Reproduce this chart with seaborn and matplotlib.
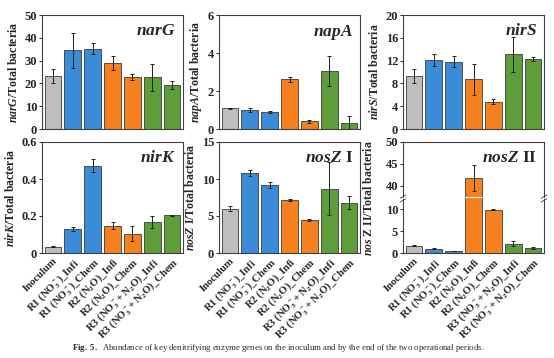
import numpy as np
import matplotlib
matplotlib.use('Agg')
import matplotlib.pyplot as plt
import seaborn as sns

# categories and colours
cats = ['Inoculum', 'R1 (NO$_3^-$)_Infi', 'R1 (NO$_3^-$)_Chem',
        'R2 (N$_2$O)_Infi', 'R2 (N$_2$O)_Chem',
        'R3 (NO$_3^-$+ N$_2$O)_Infi', 'R3 (NO$_3^-$+ N$_2$O)_Chem']
bar_colors = ['#BEBEBE', '#3B8CD8', '#3B8CD8', '#F5801F', '#F5801F', '#5E9E3A', '#5E9E3A']

# gene abundances (mean, error)
narG = [23.3, 34.5, 35.3, 29.0, 23.0, 22.6, 19.2]
narG_err = [3.0, 7.7, 2.3, 3.1, 1.3, 6.1, 1.8]
napA = [1.08, 1.01, 0.91, 2.61, 0.40, 3.04, 0.31]
napA_err = [0.03, 0.10, 0.06, 0.12, 0.08, 0.78, 0.36]
nirS = [9.3, 12.1, 11.8, 8.75, 4.8, 13.1, 12.3]
nirS_err = [1.15, 1.0, 1.0, 2.7, 0.5, 3.1, 0.35]
nirK = [0.034, 0.13, 0.472, 0.148, 0.104, 0.166, 0.203]
nirK_err = [0.004, 0.01, 0.035, 0.017, 0.04, 0.033, 0.004]
nosZI = [6.0, 10.8, 9.2, 7.15, 4.46, 8.7, 6.8]
nosZI_err = [0.3, 0.4, 0.35, 0.15, 0.1, 3.6, 0.9]
nosZII = [1.65, 0.97, 0.52, 41.7, 9.97, 2.1, 1.1]
nosZII_err = [0.15, 0.15, 0.05, 3.0, 0.2, 0.6, 0.2]

sns.set_style('ticks')
plt.rcParams['font.family'] = ['Liberation Serif', 'DejaVu Serif']
plt.rcParams['font.weight'] = 'bold'
plt.rcParams['mathtext.fontset'] = 'custom'
plt.rcParams['mathtext.rm'] = 'Liberation Serif:bold'
plt.rcParams['mathtext.it'] = 'Liberation Serif:bold:italic'
plt.rcParams['mathtext.bf'] = 'Liberation Serif:bold'
plt.rcParams['axes.edgecolor'] = '#404040'
plt.rcParams['axes.linewidth'] = 0.8

fig = plt.figure(figsize=(5.54, 3.58), dpi=100)
W, H = 554, 358
TICK_FS = 9
XLAB_FS = 7.7
YLAB_FS = 8.5


def make_ax(left, top, right, bottom):
    return fig.add_axes([left / W, 1 - bottom / H, (right - left) / W, (bottom - top) / H])


def draw_bars(ax, vals, errs):
    sns.barplot(x=cats, y=vals, hue=cats, palette=bar_colors, legend=False, saturation=1,
                width=0.84, edgecolor='#3a3a3a', linewidth=0.6, ax=ax)
    ax.errorbar(x=np.arange(len(cats)), y=vals, yerr=errs, fmt='none',
                ecolor='#202020', elinewidth=0.7, capsize=1.5, capthick=0.7)
    ax.set_xlim(-0.55, 6.55)
    ax.set_xlabel('')
    ax.tick_params(axis='y', labelsize=TICK_FS, length=2.5, width=0.7, pad=1)
    ax.tick_params(axis='x', length=0)


def set_xlabels(ax):
    ax.set_xticks(range(len(cats)))
    ax.set_xticklabels(cats, rotation=45, ha='right', rotation_mode='anchor',
                       fontsize=XLAB_FS, fontweight='bold')
    ax.tick_params(axis='x', pad=2)


def style(ax, title, ylabel, ylim, yticks, ticklabels, show_x):
    ax.set_ylim(*ylim)
    ax.set_yticks(yticks)
    ax.set_yticklabels(ticklabels, fontweight='bold')
    ax.set_ylabel(ylabel, fontsize=YLAB_FS, labelpad=3, fontweight='bold')
    ax.text(0.95, 0.93, title, transform=ax.transAxes, ha='right', va='top', fontsize=12.5)
    if show_x:
        set_xlabels(ax)
    else:
        ax.set_xticklabels([])


lefts = [42, 219, 403]
rights = [183, 360, 544]

ax1 = make_ax(lefts[0], 15, rights[0], 129)
draw_bars(ax1, narG, narG_err)
style(ax1, '$narG$', '$narG$/Total bacteria', (0, 50), [0, 10, 20, 30, 40, 50],
      ['0', '10', '20', '30', '40', '50'], False)

ax2 = make_ax(lefts[1], 15, rights[1], 129)
draw_bars(ax2, napA, napA_err)
style(ax2, '$napA$', '$napA$/Total bacteria', (0, 6), [0, 2, 4, 6],
      ['0', '2', '4', '6'], False)

ax3 = make_ax(lefts[2], 15, rights[2], 129)
draw_bars(ax3, nirS, nirS_err)
style(ax3, '$nirS$', '$nirS$/Total bacteria', (0, 20), [0, 4, 8, 12, 16, 20],
      ['0', '4', '8', '12', '16', '20'], False)

ax4 = make_ax(lefts[0], 142, rights[0], 253)
draw_bars(ax4, nirK, nirK_err)
style(ax4, '$nirK$', '$nirK$/Total bacteria', (0, 0.6), [0, 0.2, 0.4, 0.6],
      ['0', '0.2', '0.4', '0.6'], True)

ax5 = make_ax(lefts[1], 142, rights[1], 253)
draw_bars(ax5, nosZI, nosZI_err)
style(ax5, '$nosZ$ I', '$nosZ$ I/Total bacteria', (0, 15), [0, 5, 10, 15],
      ['0', '5', '10', '15'], True)

# broken axis panel for nosZ II
ax6u = make_ax(lefts[2], 142, rights[2], 196.5)
ax6l = make_ax(lefts[2], 198.5, rights[2], 253)
draw_bars(ax6u, nosZII, nosZII_err)
draw_bars(ax6l, nosZII, nosZII_err)
ax6u.set_ylim(37.5, 50)
ax6u.set_yticks([40, 45, 50])
ax6u.set_yticklabels(['40', '45', '50'], fontweight='bold')
ax6u.set_xticklabels([])
ax6u.spines['bottom'].set_visible(False)
ax6u.text(0.95, 0.86, '$nosZ$ II', transform=ax6u.transAxes, ha='right', va='top', fontsize=12.5)
ax6l.set_ylim(0, 12.5)
ax6l.set_yticks([0, 5, 10])
ax6l.set_yticklabels(['0', '5', '10'], fontweight='bold')
ax6l.spines['top'].set_visible(False)
set_xlabels(ax6l)
ax6l.set_ylabel('$nos$ Z II/Total bacteria', fontsize=YLAB_FS, labelpad=3, fontweight='bold')
ax6l.yaxis.set_label_coords(-0.2, 1.0)

# break marks on the spines
for xpos in (0, 1):
    for dy in (-0.035, 0.035):
        ax6l.plot([xpos - 0.02, xpos + 0.02], [1.0 + dy - 0.03, 1.0 + dy + 0.03],
                  transform=ax6l.transAxes, color='#404040', lw=0.6, clip_on=False)

fig.text(72 / W, 0.01, r'$\mathbf{Fig.\ 5.}$  Abundance of key denitrifying enzyme genes on the inoculum and by the end of the two operational periods.',
         ha='left', va='bottom', fontsize=6.3, fontweight='normal')

fig.savefig('out.png', dpi=100)
